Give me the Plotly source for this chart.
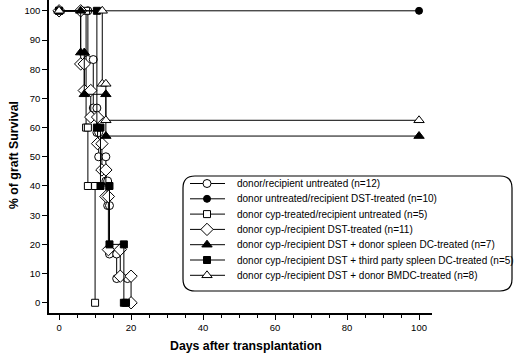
import plotly.graph_objects as go

# ---- data (step-curve vertices: day, % survival) ----
names = [
    "donor/recipient untreated (n=12)",
    "donor untreated/recipient DST-treated (n=10)",
    "donor cyp-treated/recipient untreated (n=5)",
    "donor cyp-/recipient DST-treated (n=11)",
    "donor cyp-/recipient DST + donor spleen DC-treated (n=7)",
    "donor cyp-/recipient DST + third party spleen DC-treated (n=5)",
    "donor cyp-/recipient DST + donor BMDC-treated (n=8)",
]

untreated_x = [0, 8, 8, 9.5, 9.5, 10.5, 10.5, 11, 11, 13, 13, 13.5, 13.5, 14, 14, 16, 16, 19]
untreated_y = [100, 100, 83.3, 83.3, 66.7, 66.7, 58.3, 58.3, 50, 50, 41.7, 41.7, 33.3, 33.3, 16.7, 16.7, 8.3, 8.3]

dst_x = [0, 100]
dst_y = [100, 100]

cyp_x = [0, 7.5, 7.5, 8, 8, 10, 10]
cyp_y = [100, 100, 60, 60, 40, 40, 0]

cypdst_x = [0, 6, 6, 7, 7, 8.8, 8.8, 10.7, 10.7, 11.9, 11.9, 13, 13, 13.7, 13.7, 17, 17, 20, 20]
cypdst_y = [100, 100, 81.8, 81.8, 72.7, 72.7, 63.6, 63.6, 54.5, 54.5, 45.5, 45.5, 36.4, 36.4, 18.2, 18.2, 9.1, 9.1, 0]

spleen_x = [0, 6, 6, 7, 7, 13, 13, 100]
spleen_y = [100, 100, 85.7, 85.7, 71.4, 71.4, 57.1, 57.1]

third_x = [0, 10.5, 10.5, 11.5, 11.5, 14, 14, 18, 18, 18.6]
third_y = [100, 100, 60, 60, 40, 40, 20, 20, 0, 0]

bmdc_x = [0, 12, 12, 13, 13, 100]
bmdc_y = [100, 100, 75, 75, 62.5, 62.5]

x_ticks = [0, 20, 40, 60, 80, 100]
y_ticks = [0, 10, 20, 30, 40, 50, 60, 70, 80, 90, 100]

series = [
    (untreated_x, untreated_y, "circle", "white", 8),
    (dst_x, dst_y, "circle", "black", 7),
    (cyp_x, cyp_y, "square", "white", 7),
    (cypdst_x, cypdst_y, "diamond", "white", 9.5),
    (spleen_x, spleen_y, "triangle-up", "black", 9),
    (third_x, third_y, "square", "black", 7),
    (bmdc_x, bmdc_y, "triangle-up", "white", 9),
]

FONT = "Liberation Sans, Arial, Helvetica, sans-serif"

W, H = 520, 356
ML, MR, MT, MB = 49, 4, 0, 43
PW = W - ML - MR
PH = H - MT - MB
AX_RIGHT = 432  # pixel where the main x axis ends


def px_x(p):
    return (p - ML) / PW


def px_y(p):
    return 1 - (p - MT) / PH


fig = go.Figure()
for name, (xs, ys, sym, fill, size) in zip(names, series):
    fig.add_trace(go.Scatter(
        x=xs, y=ys, name=name, mode="lines+markers", showlegend=False,
        line=dict(color="black", width=1),
        marker=dict(symbol=sym, color=fill, size=size,
                    line=dict(color="black", width=1)),
        cliponaxis=False, xaxis="x", yaxis="y",
    ))

# ---- hand-built legend on a pixel-scaled overlay subplot (x2/y2) ----
box_l, box_r, box_t, box_b, rad = 183, 512, 176, 291, 12
path = (f"M {box_l+rad},{box_t} L {box_r-rad},{box_t} Q {box_r},{box_t} {box_r},{box_t+rad} "
        f"L {box_r},{box_b-rad} Q {box_r},{box_b} {box_r-rad},{box_b} L {box_l+rad},{box_b} "
        f"Q {box_l},{box_b} {box_l},{box_b-rad} L {box_l},{box_t+rad} Q {box_l},{box_t} {box_l+rad},{box_t} Z")
fig.add_shape(type="path", path=path, xref="x2", yref="y2",
              line=dict(color="black", width=1.2), fillcolor="white", layer="below")

row0, row_gap = 183.5, 15.3
sym_l, sym_c, sym_r, text_l = 190, 207, 225, 235
for i, (name, (xs, ys, sym, fill, size)) in enumerate(zip(names, series)):
    yy = row0 + i * row_gap
    fig.add_trace(go.Scatter(x=[sym_l, sym_r], y=[yy, yy], mode="lines", showlegend=False,
                             line=dict(color="black", width=1), xaxis="x2", yaxis="y2",
                             hoverinfo="skip"))
    fig.add_trace(go.Scatter(x=[sym_c], y=[yy], mode="markers", showlegend=False,
                             marker=dict(symbol=sym, color=fill, size=size,
                                         line=dict(color="black", width=1)),
                             xaxis="x2", yaxis="y2", hoverinfo="skip"))
    fig.add_annotation(x=text_l, y=yy, xref="x2", yref="y2", text=name,
                       showarrow=False, xanchor="left", yanchor="middle",
                       font=dict(size=10, family=FONT, color="black"))

# axis titles
fig.add_annotation(x=px_x(246), y=px_y(346), xref="paper", yref="paper",
                   text="<b>Days after transplantation</b>", showarrow=False,
                   xanchor="center", yanchor="middle",
                   font=dict(size=12.3, family=FONT, color="black"))
fig.add_annotation(x=px_x(14), y=px_y(155), xref="paper", yref="paper",
                   text="<b>% of graft Survival</b>", showarrow=False, textangle=-90,
                   xanchor="center", yanchor="middle",
                   font=dict(size=12.3, family=FONT, color="black"))

fig.update_layout(
    width=W, height=H,
    margin=dict(l=ML, r=MR, t=MT, b=MB, autoexpand=False),
    paper_bgcolor="white", plot_bgcolor="rgba(0,0,0,0)",
    font=dict(family=FONT, color="black", size=10),
    showlegend=False,
    xaxis=dict(domain=[0, (AX_RIGHT - ML) / PW], anchor="y",
               range=[-2.8, 103.6], tickvals=x_ticks, ticktext=[str(v) for v in x_ticks],
               showline=True, linecolor="black", linewidth=1.5,
               ticks="outside", ticklen=5, tickcolor="black", tickwidth=1,
               minor=dict(dtick=5, tick0=0, ticks="outside", ticklen=3, tickcolor="black"),
               showgrid=False, zeroline=False, tickfont=dict(size=9.5), automargin=False),
    yaxis=dict(domain=[0, 1], anchor="x",
               range=[-3.5, 103.7], tickvals=y_ticks, ticktext=[str(v) for v in y_ticks],
               showline=True, linecolor="black", linewidth=1.5,
               ticks="outside", ticklen=5, tickcolor="black", tickwidth=1,
               showgrid=False, zeroline=False, tickfont=dict(size=9.5), automargin=False),
    xaxis2=dict(domain=[0, 1], anchor="y2", range=[ML, W - MR], visible=False,
                fixedrange=True),
    yaxis2=dict(domain=[0, 1], anchor="x2", range=[MT + PH, MT], visible=False,
                fixedrange=True),
)

fig.write_html("out.html", config={"displayModeBar": False},
               post_script="document.body.style.margin='0';document.body.style.padding='0';")
